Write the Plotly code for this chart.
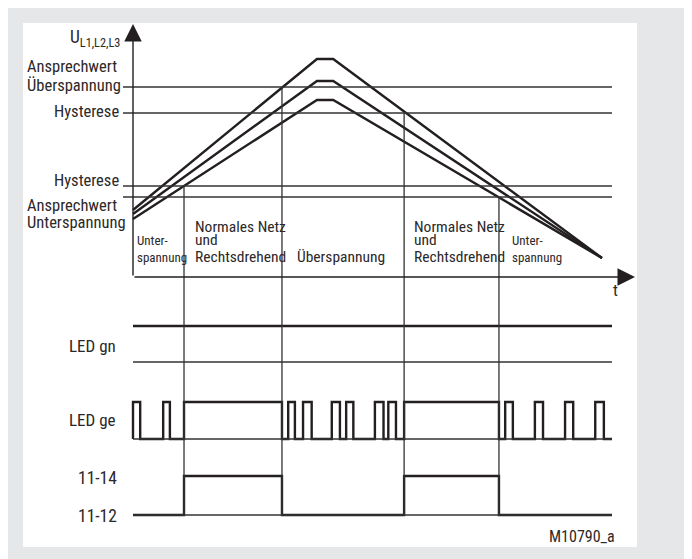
import plotly.graph_objects as go

# ---------------- data (arbitrary units) ----------------
# time axis: 0 = voltage axis, 100 = end of traces
t_end = 100.0
# three phase voltages: start, peak plateau start/end, end
t_volt = [0.0, 38.4, 41.8, 97.9]
u_L1 = [67, 218, 218, 19]
u_L2 = [63, 196, 196, 19]
u_L3 = [58, 177, 177, 19]

# threshold levels
thr_levels = [190, 164, 91, 80]

# state changes (time, threshold at which the change happens)
t_switch = [10.65, 31.1, 56.6, 76.4]
switch_level = [91, 190, 164, 80]

# LED gn: always on
gn_level = [1, 1]

# LED ge: pulses (on, off)
ge_on = [0.0, 6.3, 10.65, 32.4, 35.5, 41.5, 44.5, 50.5, 53.3, 56.6, 77.7, 83.9, 90.2, 96.5]
ge_off = [1.5, 7.7, 31.1, 33.8, 37.3, 43.2, 46.0, 52.3, 54.9, 76.4, 79.3, 85.6, 91.9, 98.3]

# relay 11-14 (on, off)
rel_on = [10.65, 56.6]
rel_off = [31.1, 76.4]

# ---------------- layout helpers (page pixel coordinates) ----------------
PAGE_W, PAGE_H = 692, 559
OFF = 8                              # body margin of the page
W, H = PAGE_W - OFF, PAGE_H - OFF    # figure size
X0_PX, PX_PER_T = 133.0, 4.79        # page pixel of t=0, pixels per time unit
Y0_PX = 277.0                        # page pixel of voltage 0


def tx(px):
    return (px - X0_PX) / PX_PER_T


def vy(py):
    return Y0_PX - py


# rows for the binary signals: (base level, amplitude) in y units
ROW_GN = (vy(362), 36)
ROW_GE = (vy(439), 37)
ROW_REL = (vy(515), 39)

INK = "#231f20"
TXT = "#2b2829"
THIN = "#333333"
FONT = "Liberation Sans Narrow, Arial Narrow, Roboto Condensed, sans-serif"


def steps(on, off, end):
    xs, ys = [0.0], [0]
    for a, b in zip(on, off):
        xs += [a, a, b, b]
        ys += [0, 1, 1, 0]
    xs.append(end)
    ys.append(0)
    return xs, ys


fig = go.Figure()

# voltage traces
for u in (u_L1, u_L2, u_L3):
    fig.add_trace(go.Scatter(x=t_volt, y=u, mode="lines",
                             line=dict(color=INK, width=2.4), hoverinfo="skip"))

# threshold lines
for lv in thr_levels:
    fig.add_shape(type="line", x0=tx(123), x1=t_end, y0=lv, y1=lv,
                  line=dict(color=THIN, width=1.3))

# vertical state-change lines
for ts, lv in zip(t_switch, switch_level):
    fig.add_shape(type="line", x0=ts, x1=ts, y0=lv, y1=ROW_REL[0],
                  line=dict(color=THIN, width=1.3))

# baselines of binary rows
for base, amp in (ROW_GN, ROW_GE, ROW_REL):
    fig.add_shape(type="line", x0=0, x1=t_end, y0=base, y1=base,
                  line=dict(color=THIN, width=1.3))

# binary signals
base, amp = ROW_GN
fig.add_trace(go.Scatter(x=[0.0, t_end], y=[base + amp * v for v in gn_level], mode="lines",
                         line=dict(color=INK, width=2.4), hoverinfo="skip"))
for (on, off), (base, amp) in (((ge_on, ge_off), ROW_GE),
                               ((rel_on, rel_off), ROW_REL)):
    xs, ys = steps(on, off, t_end)
    fig.add_trace(go.Scatter(x=xs, y=[base + amp * v for v in ys], mode="lines",
                             line=dict(color=INK, width=2.4), hoverinfo="skip"))

# axes with arrows
fig.add_annotation(x=0, y=vy(24), ax=0, ay=0, xref="x", yref="y", axref="x", ayref="y",
                   showarrow=True, arrowhead=2, arrowsize=2.5, arrowwidth=1.4,
                   arrowcolor=INK, text="", standoff=0)
fig.add_annotation(x=tx(635), y=0, ax=0, ay=0, xref="x", yref="y", axref="x", ayref="y",
                   showarrow=True, arrowhead=2, arrowsize=2.5, arrowwidth=1.4,
                   arrowcolor=INK, text="", standoff=0)


def label(text, px, py, size, anchor="right"):
    fig.add_annotation(x=tx(px), y=vy(py), text=text, showarrow=False,
                       xanchor=anchor, yanchor="middle", xref="x", yref="y",
                       font=dict(family=FONT, size=size, color=TXT))


# left labels
label("U<sub>L1,L2,L3</sub>", 122, 38, 17.5)
label("Ansprechwert", 25, 66, 16.5, "left")
label("Überspannung", 25, 85, 16.5, "left")
label("Hysterese", 121, 111, 16.5)
label("Hysterese", 121, 180, 16.5)
label("Ansprechwert", 25, 205, 16.5, "left")
label("Unterspannung", 25, 222, 16.5, "left")
label("t", 615.5, 290, 16.5, "center")

# region labels
label("Unter-", 135, 240, 13, "left")
label("spannung", 135, 257, 13, "left")
label("Normales Netz", 193, 226.5, 15.5, "left")
label("und", 193, 240, 15.5, "left")
label("Rechtsdrehend", 193, 257, 15.5, "left")
label("Überspannung", 341, 257, 15.5, "center")
label("Normales Netz", 412, 226.5, 15.5, "left")
label("und", 412, 240, 15.5, "left")
label("Rechtsdrehend", 412, 257, 15.5, "left")
label("Unter-", 510, 240, 13, "left")
label("spannung", 510, 257, 13, "left")

# row labels
label("LED gn", 118, 346, 17)
label("LED ge", 118, 420, 17)
label("11-14", 119, 478, 17.5)
label("11-12", 119, 516, 17.5)
label("M10790_a", 617, 536, 16)

# white drawing panel on the grey frame
fig.add_shape(type="rect", xref="paper", yref="paper",
              x0=(23 - OFF) / W, x1=(637 - OFF) / W,
              y0=1 - (547 - OFF) / H, y1=1 - (23 - OFF) / H,
              fillcolor="white", line=dict(width=0), layer="below")

fig.update_layout(
    width=W, height=H, autosize=False,
    margin=dict(l=0, r=0, t=0, b=0, pad=0),
    paper_bgcolor="#e6e7e8", plot_bgcolor="rgba(0,0,0,0)",
    showlegend=False,
    xaxis=dict(range=[tx(OFF), tx(PAGE_W)], visible=False, fixedrange=True),
    yaxis=dict(range=[vy(PAGE_H), vy(OFF)], visible=False, fixedrange=True),
)

fig.write_html("out.html")
